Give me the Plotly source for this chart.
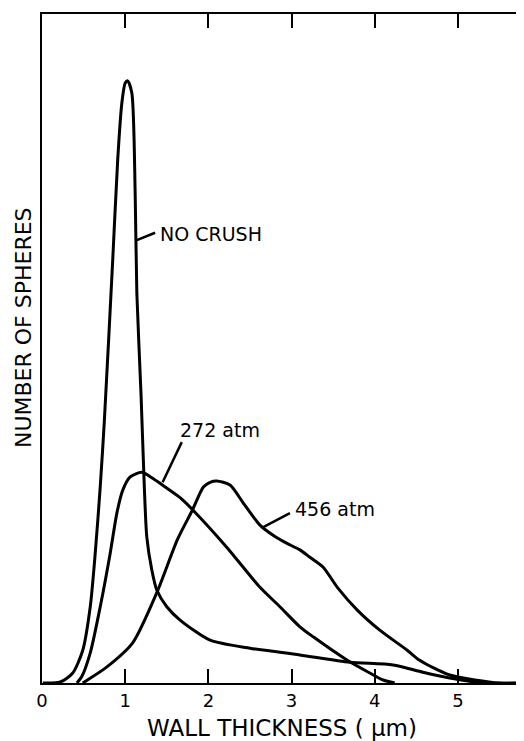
import plotly.graph_objects as go

# Wall thickness (um) and relative number of spheres (arbitrary units, 0-100)
no_crush_x = [0.01, 0.22, 0.37, 0.49, 0.58, 0.64, 0.70, 0.75, 0.85, 0.91, 0.96, 1.00, 1.03,
              1.08, 1.12, 1.14, 1.19, 1.23, 1.26, 1.32, 1.38, 1.50, 1.66, 2.02, 2.50, 3.10,
              3.70, 4.22, 4.58, 4.90, 5.30, 5.77]
no_crush_y = [0.0, 0.15, 1.5, 4.9, 11.4, 19.4, 29.3, 39.3, 63.2, 78.2, 86.7, 89.7, 90.0,
              88.2, 73.2, 58.3, 43.3, 29.3, 21.8, 16.9, 13.9, 11.4, 9.4, 6.4, 5.2, 4.2,
              3.1, 2.7, 1.6, 0.75, 0.0, 0.0]

atm272_x = [0.42, 0.48, 0.58, 0.70, 0.82, 0.90, 0.97, 1.06, 1.20, 1.33, 1.48, 1.66, 1.81,
            2.22, 2.62, 2.86, 3.10, 3.26, 3.67, 3.94, 4.10, 4.24]
atm272_y = [0.0, 1.0, 4.5, 11.4, 19.4, 25.4, 28.8, 30.8, 31.5, 30.6, 29.3, 27.7, 25.9,
            20.3, 14.3, 11.4, 8.4, 6.9, 3.4, 1.5, 0.45, 0.0]

atm456_x = [0.49, 0.78, 1.09, 1.38, 1.63, 1.81, 1.94, 2.02, 2.10, 2.26, 2.42, 2.62, 2.80,
            2.94, 3.10, 3.22, 3.38, 3.55, 3.79, 4.06, 4.39, 4.54, 4.90, 5.50, 5.77]
atm456_y = [0.0, 2.4, 6.0, 13.5, 21.5, 25.9, 29.3, 30.0, 30.2, 29.6, 26.9, 23.6, 21.9,
            20.9, 19.9, 18.8, 17.3, 14.3, 10.9, 7.9, 4.9, 3.4, 1.2, 0.0, 0.0]

x_ticks = [0, 1, 2, 3, 4, 5]
x_tick_labels = ["0", "1", "2", "3", "4", "5"]

FONT = "DejaVu Sans"
line_style = dict(color="black", width=3, shape="spline", smoothing=0.7)

fig = go.Figure()
fig.add_trace(go.Scatter(x=no_crush_x, y=no_crush_y, mode="lines", line=line_style, name="NO CRUSH"))
fig.add_trace(go.Scatter(x=atm272_x, y=atm272_y, mode="lines", line=line_style, name="272 atm"))
fig.add_trace(go.Scatter(x=atm456_x, y=atm456_y, mode="lines", line=line_style, name="456 atm"))

# leader lines for curve labels
leaders = [((1.14, 66.2), (1.36, 67.3)), ((1.68, 36.0), (1.45, 30.0)), ((2.98, 25.4), (2.66, 23.3))]
for (x0, y0), (x1, y1) in leaders:
    fig.add_shape(type="line", x0=x0, y0=y0, x1=x1, y1=y1, xref="x", yref="y",
                  line=dict(color="black", width=2.5))

labels = [("NO CRUSH", 1.39, 67.1), ("272 atm", 1.63, 37.8), ("456 atm", 3.02, 26.0)]
for txt, lx, ly in labels:
    fig.add_annotation(text=txt, x=lx, y=ly, xref="x", yref="y", showarrow=False,
                       xanchor="left", yanchor="middle", font=dict(family=FONT, size=19, color="black"))

# axis titles
fig.add_annotation(text="WALL THICKNESS ( \u03bcm)", x=0.5, y=0, xref="paper", yref="paper",
                   yshift=-45, showarrow=False, xanchor="center", yanchor="middle",
                   font=dict(family=FONT, size=23, color="black"))
fig.add_annotation(text="NUMBER OF SPHERES", x=0, y=0.5306, xref="paper", yref="paper",
                   xshift=-19, textangle=-90, showarrow=False, xanchor="center", yanchor="middle",
                   font=dict(family=FONT, size=22, color="black"))

# faint right border
fig.add_shape(type="line", x0=1, x1=1, y0=0, y1=0.23, xref="paper", yref="paper",
              line=dict(color="#bbbbbb", width=1))

fig.update_xaxes(range=[0, 5.77], tickvals=x_ticks, ticktext=x_tick_labels,
                 ticks="inside", ticklen=14, tickwidth=2, tickcolor="black",
                 showline=True, linecolor="black", linewidth=2, mirror="ticks",
                 showgrid=False, zeroline=False,
                 tickfont=dict(family=FONT, size=18, color="black"))
fig.update_yaxes(range=[0, 100], showticklabels=False, ticks="",
                 showline=True, linecolor="black", linewidth=2, mirror=False,
                 showgrid=False, zeroline=False)

fig.update_layout(width=516, height=733, margin=dict(l=34, r=2, t=6, b=58),
                  plot_bgcolor="white", paper_bgcolor="white", showlegend=False)

fig.write_html("out.html")
